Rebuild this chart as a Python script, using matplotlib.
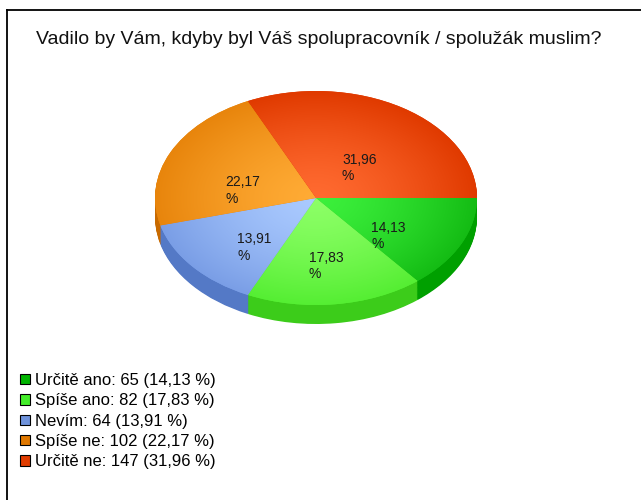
import numpy as np
import matplotlib
matplotlib.use('Agg')
import matplotlib.pyplot as plt
from matplotlib.patches import Patch
from matplotlib.lines import Line2D
from matplotlib.colors import to_rgb

title = 'Vadilo by Vám, kdyby byl Váš spolupracovník / spolužák muslim?'
categories = ['Určitě ano', 'Spíše ano', 'Nevím', 'Spíše ne', 'Určitě ne']
counts = [65, 82, 64, 102, 147]
percents = [14.13, 17.83, 13.91, 22.17, 31.96]

legend_colors = ['#00b400', '#44ee2a', '#6f93dc', '#e07800', '#e03c00']
top_inner = ['#3cf03c', '#8cff66', '#aacaff', '#ffab35', '#ff6a30']
top_outer = ['#14bc14', '#55ee33', '#7a9ee6', '#e8850c', '#e03a00']
side_colors = ['#00a000', '#3ccc1a', '#5479c6', '#c86a00', '#c43000']

plt.rcParams['font.family'] = ['Liberation Sans', 'DejaVu Sans']

W, H = 641, 500
fig = plt.figure(figsize=(W / 100, H / 100), dpi=100)
ax = fig.add_axes([0, 0, 1, 1])

# pie geometry in pixels
cx, cy, rx, ry, depth = 316, 198, 161, 107, 19

# side of the 3d pie: stacked copies moved down
for k in np.linspace(depth / ry, 0.01, 24):
    ax.pie(counts, colors=side_colors, startangle=0, counterclock=False,
           center=(0, -k), radius=1, wedgeprops=dict(linewidth=0))

fmt = lambda p: f'{p:.2f}'.replace('.', ',') + '\n%'
wedges, _, autotexts = ax.pie(counts, colors=top_outer, startangle=0, counterclock=False,
                              radius=1, autopct=fmt, pctdistance=0.5,
                              wedgeprops=dict(linewidth=0),
                              textprops=dict(fontsize=10, color='#1a1a1a'))
for t in autotexts:
    t.set_va('top')
    t.set_multialignment('left')
    t.set_zorder(5)

# radial gradient on the top surface
gx, gy = np.meshgrid(np.linspace(-1, 1, 300), np.linspace(-1, 1, 300))
r = np.clip(np.sqrt(gx ** 2 + gy ** 2), 0, 1) ** 1.4
for w, c_in, c_out in zip(wedges, top_inner, top_outer):
    a, b = np.array(to_rgb(c_in)), np.array(to_rgb(c_out))
    img = a[None, None, :] * (1 - r[..., None]) + b[None, None, :] * r[..., None]
    im = ax.imshow(img, extent=(-1, 1, -1, 1), origin='lower', zorder=2,
                   interpolation='bilinear')
    im.set_clip_path(w)

ax.set_aspect('auto')
ax.set_xlim(-cx / rx, (W - cx) / rx)
ax.set_ylim((cy - H) / ry, cy / ry)
ax.axis('off')

fig.text(319 / W, 1 - 39 / H, title, ha='center', va='center', fontsize=14, color='#111111')

handles = [Patch(facecolor=c, edgecolor='black', linewidth=0.8) for c in legend_colors]
labels = [f'{n}: {v} ({p:.2f} %)'.replace('.', ',') for n, v, p in zip(categories, counts, percents)]
fig.legend(handles, labels, loc='upper left', bbox_to_anchor=(20 / W, 1 - 373 / H),
           frameon=False, fontsize=12, handlelength=0.6, handleheight=0.6,
           handletextpad=0.3, labelspacing=0.32, borderpad=0, borderaxespad=0)

# chart border (runs off the right and bottom edge)
fig.add_artist(Line2D([7 / W, 7 / W], [0, 1 - 10 / H], transform=fig.transFigure, color='black', lw=1.3))
fig.add_artist(Line2D([7 / W, 1], [1 - 10 / H, 1 - 10 / H], transform=fig.transFigure, color='black', lw=1.3))

fig.savefig('out.png', dpi=100)
